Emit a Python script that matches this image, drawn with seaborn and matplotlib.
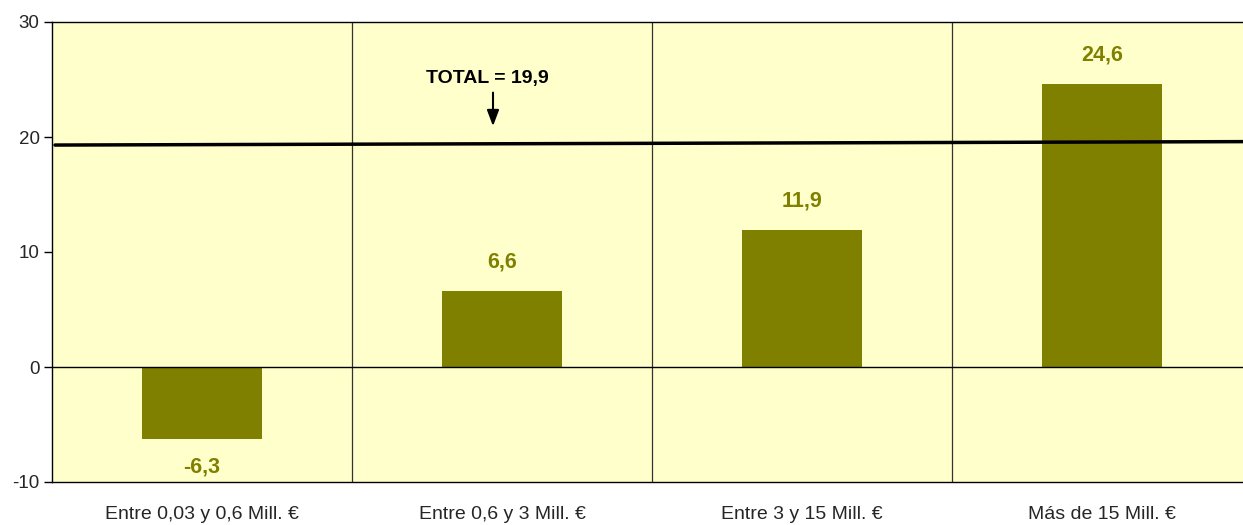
import pandas as pd
import matplotlib.pyplot as plt
import seaborn as sns

# data
categorias = ['Entre 0,03 y 0,6 Mill. €', 'Entre 0,6 y 3 Mill. €',
              'Entre 3 y 15 Mill. €', 'Más de 15 Mill. €']
valores = [-6.3, 6.6, 11.9, 24.6]
total = 19.9
# the reference line is drawn slightly tilted
total_linea_x = [-0.49, 3.5]
total_linea_y = [19.3, 19.6]

df = pd.DataFrame({'cat': categorias, 'val': valores})

sns.set_theme(style='white')
plt.rcParams['font.family'] = ['Liberation Sans', 'DejaVu Sans']

fig = plt.figure(figsize=(12.43, 5.25), dpi=100)
ax = fig.add_axes([52 / 1243, 1 - 482 / 525, 1200 / 1243, 460 / 525])
ax.set_facecolor('#FFFFCC')

sns.barplot(data=df, x='cat', y='val', color='#808000', width=0.4,
            saturation=1, linewidth=0, ax=ax, zorder=3)

ax.set_xlim(-0.5, 3.5)
ax.set_ylim(-10, 30)
ax.set_yticks([-10, 0, 10, 20, 30])
ax.set_yticklabels(['-10', '0', '10', '20', '30'], fontsize=13.5)
ax.tick_params(axis='y', left=True, length=6, width=1, color='black', pad=3)
ax.tick_params(axis='x', bottom=False, labelsize=14, pad=11)
ax.set_xlabel('')
ax.set_ylabel('')

# separators and zero line
for xv in [0.5, 1.5, 2.5]:
    ax.axvline(xv, color='#333333', lw=0.9, zorder=1)
ax.axhline(0, color='black', lw=1, zorder=4)

for s in ['left', 'bottom', 'top']:
    ax.spines[s].set_color('black')
    ax.spines[s].set_linewidth(1)
ax.spines['right'].set_visible(False)

# value labels
for i, v in enumerate(valores):
    off = 2.5 if v >= 0 else -2.4
    ax.text(i, v + off, f'{v:.1f}'.replace('.', ','), ha='center', va='center',
            fontsize=15.5, fontweight='bold', color='#808000', zorder=5)

# total line
ax.plot(total_linea_x, total_linea_y, color='black', lw=2.5, zorder=5)
ax.annotate('', xy=(0.97, 20.7), xytext=(0.97, 24.1),
            arrowprops=dict(arrowstyle='-|>,head_width=0.3,head_length=0.8',
                            color='black', lw=1.5))
ax.text(0.95, 25.1, f'TOTAL = {total:.1f}'.replace('.', ','), ha='center',
        va='center', fontsize=14, fontweight='bold', color='black')

plt.savefig('out.png', dpi=100)
